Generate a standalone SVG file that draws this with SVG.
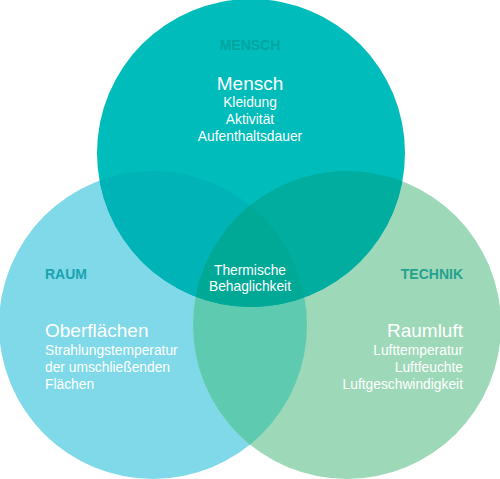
<svg xmlns="http://www.w3.org/2000/svg" width="500" height="479" viewBox="0 0 500 479">
<style>
.t{font-family:"Liberation Sans",Arial,sans-serif;fill:#ffffff;font-size:13.8px}
.h{font-size:19px}
.lab{font-family:"Liberation Sans",Arial,sans-serif;font-weight:bold;font-size:14px}
.m{text-anchor:middle}
.e{text-anchor:end}
</style>
<defs>
<clipPath id="cT"><circle cx="251" cy="153" r="154"/></clipPath>
<clipPath id="cL"><circle cx="153" cy="325" r="154"/></clipPath>
<clipPath id="cR"><circle cx="347" cy="325" r="154"/></clipPath>
</defs>
<rect width="500" height="479" fill="#ffffff"/>
<g id="raum">
<circle cx="153" cy="325" r="154" fill="#7fd9e8"/>
</g>
<g id="technik">
<circle cx="347" cy="325" r="154" fill="#9dd8b9"/>
</g>
<g id="mensch">
<circle cx="251" cy="153" r="154" fill="#00bcba"/>
</g>
<g id="overlaps">
<g clip-path="url(#cL)"><circle cx="347" cy="325" r="154" fill="#5ecbb1"/></g>
<g clip-path="url(#cT)"><circle cx="153" cy="325" r="154" fill="#00b3b6"/></g>
<g clip-path="url(#cT)"><circle cx="347" cy="325" r="154" fill="#00ad9f"/></g>
<g clip-path="url(#cT)"><g clip-path="url(#cL)"><circle cx="347" cy="325" r="154" fill="#00a996"/></g></g>
</g>
<g id="texts">
<text class="lab m" x="250" y="50" fill="#00a5a2">MENSCH</text>
<text class="t h m" x="250" y="90">Mensch</text>
<text class="t m" x="250" y="107">Kleidung</text>
<text class="t m" x="250" y="124">Aktivität</text>
<text class="t m" x="250" y="141">Aufenthaltsdauer</text>
<text class="t m" x="250" y="275">Thermische</text>
<text class="t m" x="250" y="291">Behaglichkeit</text>
<text class="lab" x="45" y="279" fill="#1aa3b0">RAUM</text>
<text class="t h" x="45" y="337">Oberflächen</text>
<text class="t" x="45" y="355">Strahlungstemperatur</text>
<text class="t" x="45" y="372">der umschließenden</text>
<text class="t" x="45" y="389">Flächen</text>
<text class="lab e" x="463" y="279" fill="#25a18e">TECHNIK</text>
<text class="t h e" x="463" y="337">Raumluft</text>
<text class="t e" x="463" y="355">Lufttemperatur</text>
<text class="t e" x="463" y="372">Luftfeuchte</text>
<text class="t e" x="463" y="389">Luftgeschwindigkeit</text>
</g>
</svg>
